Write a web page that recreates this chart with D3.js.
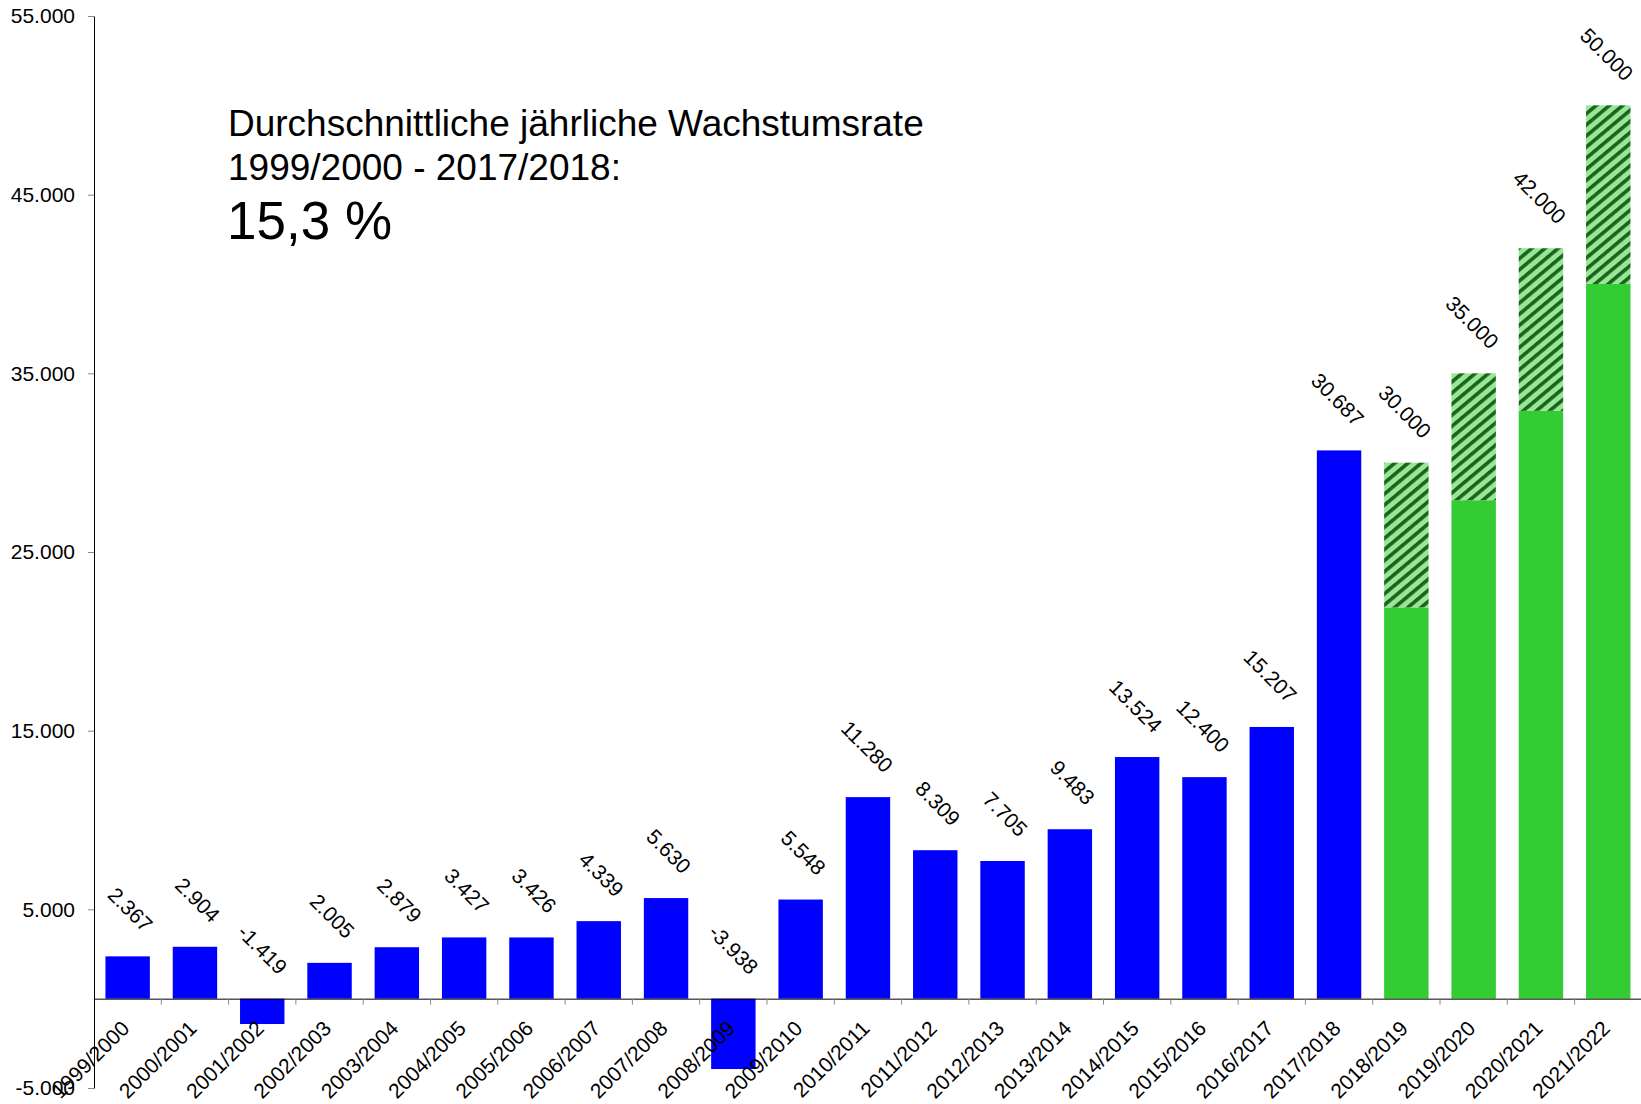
<!DOCTYPE html>
<html>
<head>
<meta charset="utf-8">
<script src="https://cdn.jsdelivr.net/npm/d3@7"></script>
<style>
  body { margin: 0; background: #fff; }
  svg { display: block; font-family: "Liberation Sans", Arial, sans-serif; }
</style>
</head>
<body>
<svg id="canvas"></svg>
<script>
// chart data
const years = [
  "1999/2000", "2000/2001", "2001/2002", "2002/2003", "2003/2004", "2004/2005",
  "2005/2006", "2006/2007", "2007/2008", "2008/2009", "2009/2010", "2010/2011",
  "2011/2012", "2012/2013", "2013/2014", "2014/2015", "2015/2016", "2016/2017",
  "2017/2018", "2018/2019", "2019/2020", "2020/2021", "2021/2022"
];
const actualValues = [
  2367, 2904, -1419, 2005, 2879, 3427, 3426, 4339, 5630, -3938,
  5548, 11280, 8309, 7705, 9483, 13524, 12400, 15207, 30687
];
const forecastValues = [30000, 35000, 42000, 50000];
const forecastBase = [21900, 27900, 32900, 40000];
const yTicks = [-5000, 5000, 15000, 25000, 35000, 45000, 55000];
const noteLines = ["Durchschnittliche jährliche Wachstumsrate", "1999/2000 - 2017/2018:"];
const noteRate = "15,3 %";

var width = 1641,
  height = 1104,
  padLeft = 94,
  padTop = 16,
  padBottom = 1088,
  fontSize = 21,
  xScale,
  yScale;

const canvas = d3.select("#canvas");

const de = d3.formatLocale({
  decimal: ",",
  thousands: ".",
  grouping: [3],
  currency: ["", " €"],
  minus: "-"
});
const fmt = de.format(",d");

const drawCanvas = () => {
  canvas.attr("width", width).attr("height", height);
  const hatch = canvas
    .append("defs")
    .append("pattern")
    .attr("id", "hatch")
    .attr("patternUnits", "userSpaceOnUse")
    .attr("width", 8.5)
    .attr("height", 8.5)
    .attr("patternTransform", "rotate(50)");
  hatch.append("rect").attr("width", 8.5).attr("height", 8.5).attr("fill", "#99e699");
  hatch.append("rect").attr("width", 3.6).attr("height", 8.5).attr("fill", "#1a641a");
};

const generateScales = () => {
  xScale = d3
    .scaleBand()
    .domain(years)
    .range([padLeft, padLeft + 23 * 67.3])
    .paddingInner(0.34)
    .paddingOuter(0.17);
  yScale = d3.scaleLinear().domain([-5000, 55000]).range([padBottom, padTop]);
};

const drawBars = () => {
  const y0 = yScale(0);
  canvas
    .append("g")
    .selectAll("rect")
    .data(actualValues)
    .join("rect")
    .attr("x", (d, i) => xScale(years[i]))
    .attr("y", (d) => yScale(Math.max(d, 0)))
    .attr("width", xScale.bandwidth())
    .attr("height", (d) => Math.abs(yScale(d) - y0))
    .attr("fill", "#0000ff");

  const fYears = years.slice(actualValues.length);
  const g = canvas.append("g");
  g.selectAll("rect.solid")
    .data(forecastBase)
    .join("rect")
    .attr("class", "solid")
    .attr("x", (d, i) => xScale(fYears[i]))
    .attr("y", (d) => yScale(d))
    .attr("width", xScale.bandwidth())
    .attr("height", (d) => y0 - yScale(d))
    .attr("fill", "#33cc33");
  g.selectAll("rect.hatch")
    .data(forecastValues)
    .join("rect")
    .attr("class", "hatch")
    .attr("x", (d, i) => xScale(fYears[i]))
    .attr("y", (d) => yScale(d))
    .attr("width", xScale.bandwidth())
    .attr("height", (d, i) => yScale(forecastBase[i]) - yScale(d))
    .attr("fill", "url(#hatch)");
};

const drawLabels = () => {
  const all = actualValues.concat(forecastValues);
  canvas
    .append("g")
    .selectAll("text")
    .data(all)
    .join("text")
    .attr("text-anchor", "end")
    .attr("font-size", fontSize)
    .attr("transform", (d, i) => {
      const cx = xScale(years[i]) + xScale.bandwidth() / 2 + 16;
      const cy = yScale(Math.max(d, 0)) - 23;
      return `translate(${cx},${cy}) rotate(45)`;
    })
    .text((d) => fmt(d));
};

const drawAxes = () => {
  const yAxis = d3
    .axisLeft(yScale)
    .tickValues(yTicks)
    .tickFormat(fmt)
    .tickSize(6)
    .tickSizeOuter(0)
    .tickPadding(13);
  const ya = canvas.append("g").attr("transform", `translate(${padLeft}, 0)`).call(yAxis);
  ya.attr("font-family", null);
  ya.select(".domain").attr("stroke", "#000");
  ya.selectAll(".tick line").attr("stroke", "#888");
  ya.selectAll(".tick text").attr("font-size", fontSize).attr("fill", "#000");

  const xAxis = d3.axisBottom(xScale).tickSize(0).tickSizeOuter(0);
  const xa = canvas.append("g").attr("transform", `translate(0, ${yScale(0)})`).call(xAxis);
  xa.attr("font-family", null);
  xa.select(".domain").attr("stroke", "#000");
  xa.selectAll(".tick text")
    .attr("font-size", fontSize)
    .attr("fill", "#000")
    .attr("text-anchor", "end")
    .attr("x", 0)
    .attr("y", 0)
    .attr("dy", 0)
    .attr("transform", "translate(3,31) rotate(-45)");

  // ticks on the category boundaries
  const off = xScale.paddingOuter() * xScale.step();
  xa.append("g")
    .selectAll("line")
    .data(years.slice(1))
    .join("line")
    .attr("x1", (d) => xScale(d) - off)
    .attr("x2", (d) => xScale(d) - off)
    .attr("y1", 0)
    .attr("y2", 6)
    .attr("stroke", "#888");
};

const drawNote = () => {
  const g = canvas.append("g").attr("fill", "#000");
  g.selectAll("text.line")
    .data(noteLines)
    .join("text")
    .attr("class", "line")
    .attr("x", 228)
    .attr("y", (d, i) => 136 + i * 44)
    .attr("font-size", 37)
    .text((d) => d);
  g.append("text").attr("x", 227).attr("y", 239).attr("font-size", 53).text(noteRate);
};

drawCanvas();
generateScales();
drawBars();
drawAxes();
drawLabels();
drawNote();
</script>
</body>
</html>
